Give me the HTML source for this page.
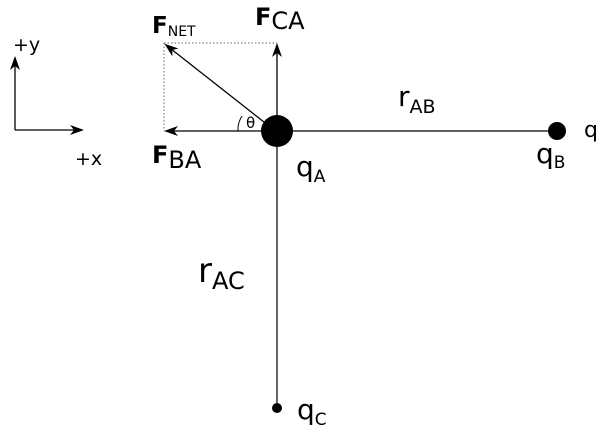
<!DOCTYPE html>
<html><head><style>
html,body{margin:0;padding:0;background:#fff;}
svg{display:block;font-family:"DejaVu Sans","Liberation Sans",sans-serif;}
</style></head><body>
<svg width="607" height="435" viewBox="0 0 607 435" xmlns="http://www.w3.org/2000/svg">
<defs>
<marker id="ah" markerWidth="14" markerHeight="10" refX="12" refY="5" orient="auto" markerUnits="userSpaceOnUse">
<path d="M0,0 L14,5 L0,10 L4,5 Z" fill="#000"/>
</marker>
</defs>
<!-- axes -->
<line x1="15" y1="130" x2="15" y2="58" stroke="#000" stroke-width="1.3" marker-end="url(#ah)"/>
<line x1="15" y1="130" x2="82" y2="130" stroke="#000" stroke-width="1.3" marker-end="url(#ah)"/>
<text x="13" y="51" font-size="19">+y</text>
<text x="75" y="165" font-size="19">+x</text>
<!-- dotted -->
<path d="M164,43 H277 M164,43 V131" stroke="#666" stroke-width="1" stroke-dasharray="1.5,2" fill="none"/>
<!-- lines -->
<line x1="277" y1="131" x2="557" y2="131" stroke="#000" stroke-width="1.2"/>
<line x1="277" y1="131" x2="277" y2="408" stroke="#000" stroke-width="1.2"/>
<line x1="262" y1="131" x2="166" y2="131" stroke="#000" stroke-width="1.3" marker-end="url(#ah)"/>
<line x1="277" y1="120" x2="277" y2="45" stroke="#000" stroke-width="1.3" marker-end="url(#ah)"/>
<line x1="264" y1="122" x2="166" y2="45" stroke="#000" stroke-width="1.3" marker-end="url(#ah)"/>
<path d="M238,131 A25,25 0 0 1 242,116" stroke="#000" stroke-width="1" fill="none"/>
<text x="246" y="128" font-size="15">θ</text>
<circle cx="277" cy="131" r="16" fill="#000"/>
<circle cx="557" cy="131" r="9" fill="#000"/>
<circle cx="277" cy="408" r="5" fill="#000"/>
<!-- labels -->
<text x="152" y="33" font-size="23" font-weight="bold">F<tspan font-size="14" font-weight="normal" dy="3">NET</tspan></text>
<text x="255" y="25" font-size="24"><tspan font-weight="bold">F</tspan><tspan dy="4">CA</tspan></text>
<text x="152" y="163" font-size="24"><tspan font-weight="bold">F</tspan><tspan dy="5">BA</tspan></text>
<text x="296" y="176" font-size="28">q<tspan font-size="17" dy="6">A</tspan></text>
<text x="398" y="106" font-size="28">r<tspan font-size="19" dy="7">AB</tspan></text>
<text x="584" y="137" font-size="22">q</text>
<text x="536" y="163" font-size="28">q<tspan font-size="17" dy="5">B</tspan></text>
<text x="198" y="282" font-size="34">r<tspan font-size="24" dy="7">AC</tspan></text>
<text x="297" y="419" font-size="28">q<tspan font-size="17" dy="6">C</tspan></text>
</svg>
</body></html>
